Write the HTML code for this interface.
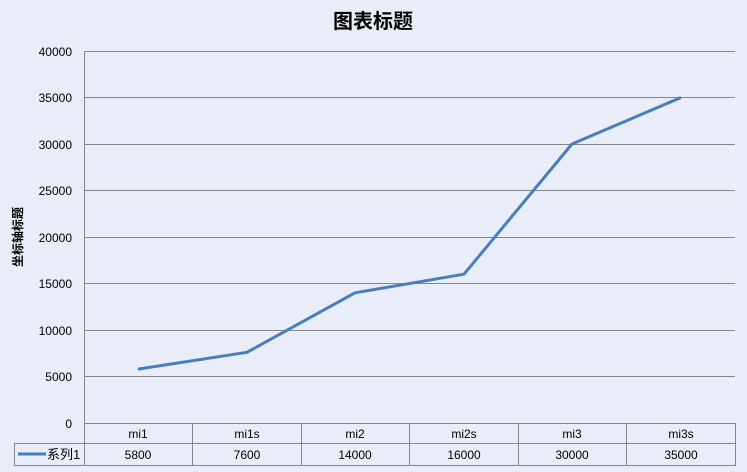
<!DOCTYPE html><html><head><meta charset="utf-8"><style>body{margin:0;background:#e9edf7}</style></head><body>
<svg width="747" height="472" xmlns="http://www.w3.org/2000/svg" style="display:block;font-family:'Liberation Sans','Noto Sans CJK SC',sans-serif">
<rect width="747" height="472" fill="#e9edf7"/>
<text x="373" y="28" text-anchor="middle" font-size="20" font-weight="bold" fill="#000">图表标题</text>
<text transform="translate(22,237) rotate(-90)" text-anchor="middle" font-size="12" font-weight="bold">坐标轴标题</text>
<g stroke="#868686" stroke-width="1">
<line x1="84" y1="51.5" x2="735" y2="51.5"/><line x1="84" y1="97.5" x2="735" y2="97.5"/><line x1="84" y1="144.5" x2="735" y2="144.5"/><line x1="84" y1="190.5" x2="735" y2="190.5"/><line x1="84" y1="237.5" x2="735" y2="237.5"/><line x1="84" y1="283.5" x2="735" y2="283.5"/><line x1="84" y1="330.5" x2="735" y2="330.5"/><line x1="84" y1="376.5" x2="735" y2="376.5"/>
<line x1="84" y1="423.5" x2="735" y2="423.5"/><line x1="14" y1="443.5" x2="735" y2="443.5"/><line x1="14" y1="465.5" x2="735" y2="465.5"/>
<line x1="84.5" y1="51" x2="84.5" y2="466"/><line x1="14.5" y1="443" x2="14.5" y2="466"/>
<line x1="192.5" y1="423" x2="192.5" y2="466"/><line x1="301.5" y1="423" x2="301.5" y2="466"/><line x1="409.5" y1="423" x2="409.5" y2="466"/><line x1="518.5" y1="423" x2="518.5" y2="466"/><line x1="626.5" y1="423" x2="626.5" y2="466"/><line x1="735.5" y1="423" x2="735.5" y2="466"/>
</g>
<g font-size="12" text-anchor="end" fill="#000">
<text x="72" y="56">40000</text><text x="72" y="102">35000</text><text x="72" y="149">30000</text><text x="72" y="195">25000</text><text x="72" y="242">20000</text><text x="72" y="288">15000</text><text x="72" y="335">10000</text><text x="72" y="381">5000</text><text x="72" y="428">0</text>
</g>
<g font-size="12" text-anchor="middle">
<text x="138" y="438">mi1</text><text x="247" y="438">mi1s</text><text x="355" y="438">mi2</text><text x="464" y="438">mi2s</text><text x="572" y="438">mi3</text><text x="681" y="438">mi3s</text>
<text x="138" y="459">5800</text><text x="247" y="459">7600</text><text x="355" y="459">14000</text><text x="464" y="459">16000</text><text x="572" y="459">30000</text><text x="681" y="459">35000</text>
</g>
<line x1="18" y1="454" x2="46" y2="454" stroke="#4a7ebb" stroke-width="3"/>
<text x="47" y="459" font-size="13">系列1</text>
<polyline fill="none" stroke="#4a7ebb" stroke-width="3" stroke-linejoin="round" points="138,369.1 247,352.3 355,292.8 464,274.2 572,144 681,97.5"/>
</svg></body></html>
